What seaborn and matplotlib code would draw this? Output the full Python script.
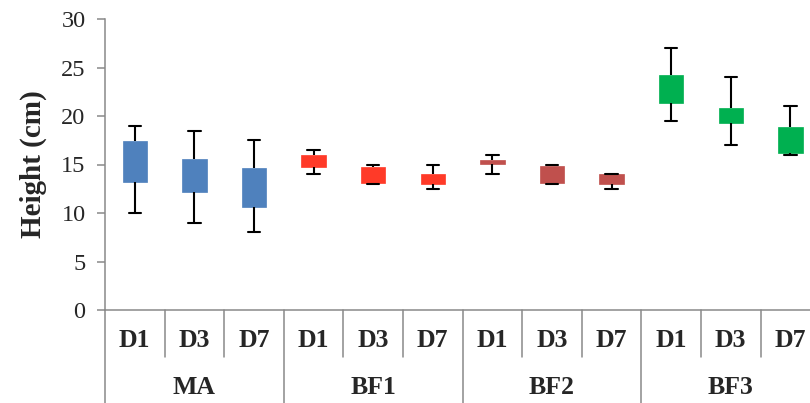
import matplotlib
matplotlib.use("Agg")
import matplotlib.pyplot as plt
import pandas as pd
import seaborn as sns

# Treatments and sampling days
groups = ["MA", "BF1", "BF2", "BF3"]
days = ["D1", "D3", "D7"]

# Plant height (cm) per treatment/day: whisker low, box bottom, box top, whisker high
lows = [10.0, 9.0, 8.0, 14.0, 13.0, 12.5, 14.0, 13.0, 12.5, 19.5, 17.0, 16.0]
box_bottoms = [13.2, 12.2, 10.6, 14.7, 13.1, 13.0, 15.05, 13.1, 13.0, 21.3, 19.3, 16.2]
box_tops = [17.4, 15.6, 14.6, 16.0, 14.7, 14.0, 15.5, 14.8, 14.0, 24.2, 20.8, 18.9]
highs = [19.0, 18.5, 17.5, 16.5, 15.0, 15.0, 16.0, 15.0, 14.0, 27.0, 24.0, 21.0]

group_colors = ["#4F81BD", "#FF3A28", "#C0504D", "#00B050"]
y_ticks = [0, 5, 10, 15, 20, 25, 30]

# Five-number samples whose quartiles are exactly the box edges and whose
# extremes are the whisker ends
rows = []
for i, (lo, b, t, hi) in enumerate(zip(lows, box_bottoms, box_tops, highs)):
    g = groups[i // len(days)]
    d = days[i % len(days)]
    for v in (lo, b, b, t, hi):
        rows.append({"slot": f"{g} {d}", "group": g, "day": d, "height": v})
df = pd.DataFrame(rows)
slots = list(dict.fromkeys(df["slot"]))

sns.set_style("white")
plt.rcParams["font.family"] = ["Liberation Serif", "DejaVu Serif"]

W, H = 810, 403
fig = plt.figure(figsize=(W / 100, H / 100), dpi=100)
ax_left, ax_bottom_px, ax_top_px = 105, 310, 19
slot_px = 59.6
ax = fig.add_axes([ax_left / W, 1 - ax_bottom_px / H,
                   slot_px * len(slots) / W, (ax_bottom_px - ax_top_px) / H])

sns.boxplot(data=df, x="slot", y="height", hue="group", order=slots,
            hue_order=groups, palette=group_colors, dodge=False, saturation=1,
            whis=(0, 100), width=0.41, linecolor="black", linewidth=1.5,
            showfliers=False, legend=False, ax=ax,
            medianprops={"visible": False})
for patch in ax.patches:
    patch.set_edgecolor(patch.get_facecolor())
    patch.set_linewidth(0.5)

axis_grey = "#898989"
ax.set_xlim(-0.5, len(slots) - 0.5)
ax.set_ylim(0, 30)
ax.set_yticks(y_ticks)
ax.set_xticks([])
ax.set_xlabel("")
ax.set_ylabel("")
ax.tick_params(axis="y", direction="out", length=6, width=1.1, color=axis_grey,
               labelsize=17.5, pad=8, left=True)
for side in ("top", "right"):
    ax.spines[side].set_visible(False)
for side in ("left", "bottom"):
    ax.spines[side].set_color(axis_grey)
    ax.spines[side].set_linewidth(1.1)

# Two-level category axis below the plot
trans = ax.get_xaxis_transform()
axis_h = ax_bottom_px - ax_top_px
day_y = -30.7 / axis_h
group_y = -78 / axis_h
day_sep_end = -46.7 / axis_h
group_sep_end = -100 / axis_h
for i, s in enumerate(slots):
    ax.text(i, day_y, days[i % len(days)], transform=trans, ha="center",
            va="center", fontsize=18.5, fontweight="bold")
for k in range(1, len(slots)):
    end = group_sep_end if k % len(days) == 0 else day_sep_end
    ax.plot([k - 0.5, k - 0.5], [0, end], transform=trans, color=axis_grey,
            lw=1.1, clip_on=False)
ax.plot([-0.5, -0.5], [0, group_sep_end], transform=trans, color=axis_grey,
        lw=1.1, clip_on=False)
for j, g in enumerate(groups):
    center = j * len(days) + (len(days) - 1) / 2
    ax.text(center, group_y, g, transform=trans, ha="center", va="center",
            fontsize=18.5, fontweight="bold")

fig.text(33 / W, 1 - 164.5 / H, "Height (cm)", rotation=90, ha="center",
         va="center", fontsize=21, fontweight="bold")

fig.savefig("out.png", dpi=100)
